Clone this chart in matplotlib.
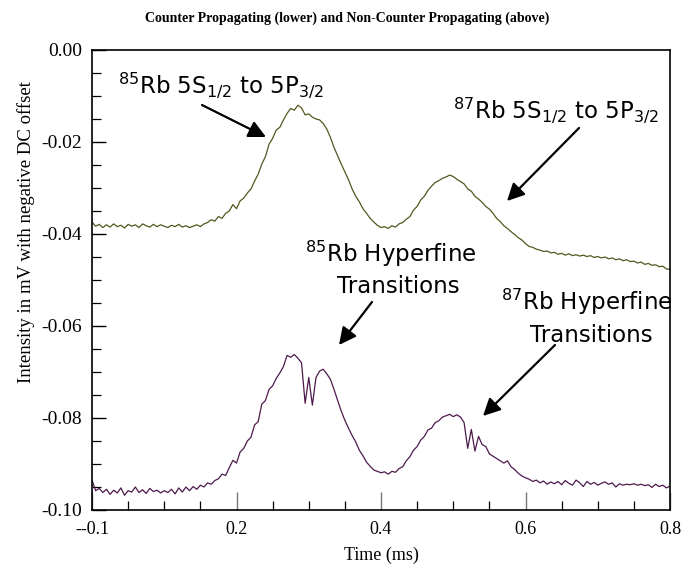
import matplotlib
matplotlib.use("Agg")
import matplotlib.pyplot as plt
from matplotlib.ticker import FixedLocator, FixedFormatter, MultipleLocator
import numpy as np

# time axis (ms), step 0.005
time_ms = np.round(np.arange(0, 161) * 0.005, 4)

non_counter = [
    -0.0374, -0.0383, -0.0379, -0.0386, -0.0380, -0.0385, -0.0378, -0.0384, -0.0381, -0.0387,
    -0.0379, -0.0383, -0.0380, -0.0386, -0.0378, -0.0382, -0.0385, -0.0379, -0.0384, -0.0380,
    -0.0383, -0.0386, -0.0381, -0.0384, -0.0379, -0.0385, -0.0382, -0.0386, -0.0383, -0.0380,
    -0.0384, -0.0378, -0.0375, -0.0369, -0.0372, -0.0362, -0.0366, -0.0355, -0.0350, -0.0336,
    -0.0345, -0.0328, -0.0322, -0.0311, -0.0302, -0.0285, -0.0270, -0.0248, -0.0232, -0.0205,
    -0.0192, -0.0174, -0.0168, -0.0152, -0.0138, -0.0127, -0.0131, -0.0120, -0.0126, -0.0141,
    -0.0139, -0.0146, -0.0150, -0.0152, -0.0160, -0.0172, -0.0190, -0.0212, -0.0230, -0.0248,
    -0.0265, -0.0282, -0.0302, -0.0318, -0.0330, -0.0345, -0.0355, -0.0366, -0.0374, -0.0381,
    -0.0386, -0.0384, -0.0388, -0.0382, -0.0385, -0.0378, -0.0375, -0.0368, -0.0362, -0.0348,
    -0.0340, -0.0326, -0.0318, -0.0305, -0.0296, -0.0288, -0.0284, -0.0279, -0.0276, -0.0272,
    -0.0275, -0.0281, -0.0286, -0.0291, -0.0302, -0.0307, -0.0318, -0.0324, -0.0331, -0.0340,
    -0.0346, -0.0355, -0.0366, -0.0373, -0.0382, -0.0388, -0.0395, -0.0401, -0.0408, -0.0413,
    -0.0421, -0.0427, -0.0429, -0.0433, -0.0435, -0.0438, -0.0437, -0.0441, -0.0440, -0.0444,
    -0.0442, -0.0446, -0.0443, -0.0447, -0.0445, -0.0448, -0.0446, -0.0449, -0.0447, -0.0451,
    -0.0449, -0.0452, -0.0450, -0.0454, -0.0452, -0.0456, -0.0454, -0.0458, -0.0456, -0.0460,
    -0.0459, -0.0463, -0.0461, -0.0466, -0.0464, -0.0468, -0.0467, -0.0471, -0.0470, -0.0476,
    -0.0477,
]

counter = [
    -0.0935, -0.0958, -0.0953, -0.0962, -0.0955, -0.0966, -0.0957, -0.0963, -0.0952, -0.0968,
    -0.0958, -0.0961, -0.0950, -0.0962, -0.0956, -0.0964, -0.0953, -0.0960, -0.0957, -0.0963,
    -0.0958, -0.0962, -0.0955, -0.0965, -0.0952, -0.0961, -0.0950, -0.0958, -0.0949, -0.0955,
    -0.0946, -0.0950, -0.0941, -0.0944, -0.0936, -0.0932, -0.0922, -0.0925, -0.0908, -0.0892,
    -0.0898, -0.0874, -0.0866, -0.0850, -0.0842, -0.0815, -0.0808, -0.0770, -0.0762, -0.0738,
    -0.0730, -0.0714, -0.0702, -0.0688, -0.0664, -0.0668, -0.0662, -0.0670, -0.0680, -0.0768,
    -0.0712, -0.0772, -0.0712, -0.0698, -0.0694, -0.0704, -0.0716, -0.0738, -0.0762, -0.0785,
    -0.0805, -0.0822, -0.0838, -0.0852, -0.0870, -0.0882, -0.0896, -0.0905, -0.0913, -0.0916,
    -0.0919, -0.0917, -0.0922, -0.0916, -0.0918, -0.0910, -0.0906, -0.0893, -0.0884, -0.0870,
    -0.0862, -0.0848, -0.0840, -0.0826, -0.0822, -0.0810, -0.0806, -0.0798, -0.0795, -0.0792,
    -0.0797, -0.0793, -0.0798, -0.0810, -0.0866, -0.0825, -0.0872, -0.0840, -0.0858, -0.0862,
    -0.0878, -0.0883, -0.0888, -0.0893, -0.0898, -0.0893, -0.0906, -0.0912, -0.0920, -0.0926,
    -0.0930, -0.0933, -0.0938, -0.0935, -0.0941, -0.0937, -0.0944, -0.0939, -0.0943, -0.0938,
    -0.0945, -0.0936, -0.0942, -0.0946, -0.0935, -0.0941, -0.0949, -0.0938, -0.0944, -0.0940,
    -0.0946, -0.0942, -0.0939, -0.0944, -0.0941, -0.0950, -0.0943, -0.0946, -0.0944, -0.0945,
    -0.0943, -0.0946, -0.0944, -0.0947, -0.0945, -0.0951, -0.0944, -0.0949, -0.0946, -0.0952,
    -0.0948,
]

x_ticks = [0.0, 0.2, 0.4, 0.6, 0.8]
x_tick_labels = ["--0.1", "0.2", "0.4", "0.6", "0.8"]
y_ticks = [0.0, -0.02, -0.04, -0.06, -0.08, -0.10]
y_tick_labels = ["0.00", "-0.02", "-0.04", "-0.06", "-0.08", "-0.10"]

serif = "Liberation Serif"

fig = plt.figure(figsize=(6.94, 5.79), dpi=100)
ax = fig.add_axes([92/694, 1 - 510/579, 578/694, 460/579])

ax.plot(time_ms, non_counter, color="#55561f", lw=0.9)
ax.plot(time_ms, counter, color="#4d1a4c", lw=0.9)

ax.set_xlim(0, 0.8)
ax.set_ylim(-0.10, 0.0)

ax.xaxis.set_major_locator(FixedLocator(x_ticks))
ax.xaxis.set_major_formatter(FixedFormatter(x_tick_labels))
ax.xaxis.set_minor_locator(MultipleLocator(0.05))
ax.yaxis.set_major_locator(FixedLocator(y_ticks))
ax.yaxis.set_major_formatter(FixedFormatter(y_tick_labels))
ax.yaxis.set_minor_locator(MultipleLocator(0.005))

ax.tick_params(axis="both", which="both", direction="in", top=False, right=False)
ax.tick_params(axis="x", which="major", length=13, width=1, color="#777777", pad=8, labelsize=13)
ax.tick_params(axis="y", which="major", length=10, width=1, pad=7, labelsize=14)
ax.tick_params(axis="both", which="minor", length=6.5, width=0.9)
for lab in ax.get_xticklabels() + ax.get_yticklabels():
    lab.set_fontfamily(serif)
for sp in ax.spines.values():
    sp.set_linewidth(1.2)

fig.text(347/694, 1 - 18/579,
         "Counter Propagating (lower) and Non-Counter Propagating (above)",
         ha="center", va="center", fontsize=10, fontweight="bold", family=serif)
fig.text(26/694, 1 - 232/579, "Intensity in mV with negative DC offset",
         rotation=90, ha="center", va="center", fontsize=13.5, family=serif)
fig.text(381/694, 1 - 555/579, "Time (ms)", ha="center", va="center",
         fontsize=13, family=serif)

def px2data(px, py):
    return ((px - 92) / 722.5, -(py - 50) / 4600)

afs = 16.5
ax.text(*px2data(118, 93), r"$\mathregular{^{85}}$Rb 5S$\mathregular{_{1/2}}$ to 5P$\mathregular{_{3/2}}$",
        ha="left", va="baseline", fontsize=afs, family="DejaVu Sans")
ax.text(*px2data(453, 118), r"$\mathregular{^{87}}$Rb 5S$\mathregular{_{1/2}}$ to 5P$\mathregular{_{3/2}}$",
        ha="left", va="baseline", fontsize=afs, family="DejaVu Sans")
ax.text(*px2data(391, 262), r"$\mathregular{^{85}}$Rb Hyperfine",
        ha="center", va="baseline", fontsize=afs, family="DejaVu Sans")
ax.text(*px2data(398, 293), "Transitions",
        ha="center", va="baseline", fontsize=afs, family="DejaVu Sans")
ax.text(*px2data(587, 310), r"$\mathregular{^{87}}$Rb Hyperfine",
        ha="center", va="baseline", fontsize=afs, family="DejaVu Sans", clip_on=False)
ax.text(*px2data(591, 342), "Transitions",
        ha="center", va="baseline", fontsize=afs, family="DejaVu Sans")

arrows = [((202, 105), (266, 137)), ((579, 128), (507, 201)),
          ((372, 302), (339, 345)), ((555, 345), (483, 416))]
for tail, head in arrows:
    ax.annotate("", xy=px2data(*head), xytext=px2data(*tail),
                arrowprops=dict(arrowstyle="-|>", color="black", lw=1.6,
                                mutation_scale=26, shrinkA=0, shrinkB=0))

fig.savefig("out.png", dpi=100)
